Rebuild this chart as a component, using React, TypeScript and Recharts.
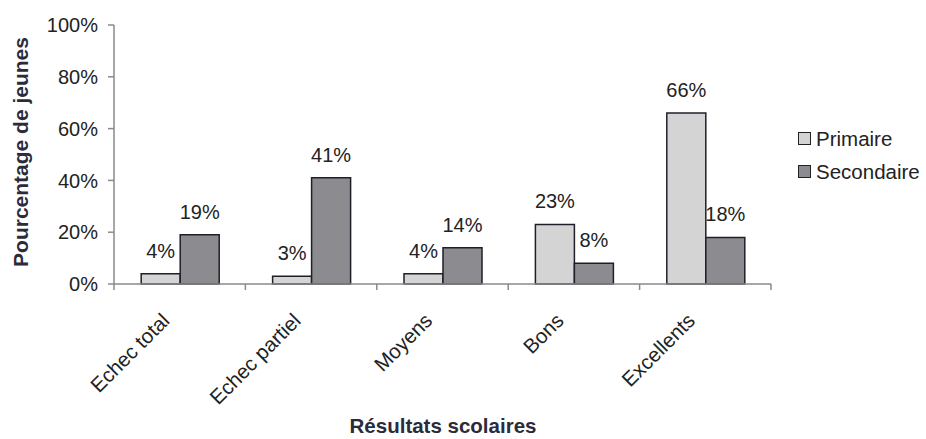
import { Bar, BarChart, LabelList, XAxis, YAxis } from "recharts";

const categories = ["Echec total", "Echec partiel", "Moyens", "Bons", "Excellents"];
const primaire = [4, 3, 4, 23, 66];
const secondaire = [19, 41, 14, 8, 18];
const yTicks = [0, 20, 40, 60, 80, 100];

const data = categories.map((name, i) => ({
  name,
  primaire: primaire[i],
  secondaire: secondaire[i],
}));

const W = 926;
const H = 439;
const MARGIN = { top: 25, right: 155, bottom: 0, left: 0 };
const Y_AXIS_W = 114;
const BAND = (W - MARGIN.right - MARGIN.left - Y_AXIS_W) / categories.length;
const FONT = "'Liberation Sans', Arial, sans-serif";
const AXIS_COLOR = "#8a8a8a";
const TEXT = "#222";
const TITLE = "#2b2b3a";

const LIGHT = "#d4d4d4";
const DARK = "#8c8c90";

function XTick(props: any) {
  const { x, y, payload, index } = props;
  const left = x - BAND / 2;
  const right = x + BAND / 2;
  const ax = x - 9;
  const ay = y + 38;
  return (
    <g>
      <line x1={left} y1={y} x2={left} y2={y + 6} stroke={AXIS_COLOR} strokeWidth={1.5} />
      {index === categories.length - 1 && (
        <line x1={right} y1={y} x2={right} y2={y + 6} stroke={AXIS_COLOR} strokeWidth={1.5} />
      )}
      <text
        x={ax}
        y={ay}
        transform={`rotate(-45 ${ax} ${ay})`}
        textAnchor="end"
        fontSize={20.5}
        fontFamily={FONT}
        fill={TEXT}
      >
        {payload.value}
      </text>
    </g>
  );
}

function YTitle() {
  return (
    <text
      x={28}
      y={152}
      transform="rotate(-90 28 152)"
      textAnchor="middle"
      fontFamily={FONT}
      fontSize={21}
      fontWeight={700}
      fill={TITLE}
    >
      Pourcentage de jeunes
    </text>
  );
}

function XTitle() {
  return (
    <text
      x={443}
      y={433}
      textAnchor="middle"
      fontFamily={FONT}
      fontSize={20.5}
      fontWeight={700}
      fill={TITLE}
    >
      Résultats scolaires
    </text>
  );
}

function LegendBox() {
  const items = [
    { label: "Primaire", color: LIGHT },
    { label: "Secondaire", color: DARK },
  ];
  return (
    <div
      style={{
        position: "absolute",
        left: 798,
        top: 122,
        fontFamily: FONT,
        fontSize: 20.5,
        color: TEXT,
      }}
    >
      {items.map((it) => (
        <div key={it.label} style={{ display: "flex", alignItems: "center", height: 33 }}>
          <span
            style={{
              display: "inline-block",
              width: 11,
              height: 11,
              background: it.color,
              border: "1.5px solid #222",
              marginRight: 5,
            }}
          />
          <span>{it.label}</span>
        </div>
      ))}
    </div>
  );
}

export default function App() {
  return (
    <div style={{ position: "absolute", left: 0, top: 0, width: W, height: H, background: "#fff" }}>
      <BarChart
        width={W}
        height={H}
        data={data}
        margin={MARGIN}
        barCategoryGap="20.7%"
        barGap={0}
      >
        <XAxis
          dataKey="name"
          height={H - 284 - MARGIN.bottom}
          interval={0}
          stroke={AXIS_COLOR}
          strokeWidth={1.5}
          tickLine={false}
          tickSize={0}
          tickMargin={0}
          tick={<XTick />}
          label={{ content: <XTitle /> }}
        />
        <YAxis
          width={Y_AXIS_W}
          domain={[0, 100]}
          ticks={yTicks}
          interval={0}
          tickFormatter={(v) => `${v}%`}
          stroke={AXIS_COLOR}
          strokeWidth={1.5}
          tickSize={6}
          tickMargin={10}
          tick={{ fontSize: 20, fontFamily: FONT, fill: TEXT }}
          label={{ content: <YTitle /> }}
        />
        <Bar dataKey="primaire" fill={LIGHT} stroke="#1f1f2a" strokeWidth={1.5} isAnimationActive={false}>
          <LabelList
            dataKey="primaire"
            position="top"
            offset={16}
            formatter={(v: any) => `${v}%`}
            style={{ fontSize: 20, fontFamily: FONT, fill: TEXT }}
          />
        </Bar>
        <Bar dataKey="secondaire" fill={DARK} stroke="#1f1f2a" strokeWidth={1.5} isAnimationActive={false}>
          <LabelList
            dataKey="secondaire"
            position="top"
            offset={16}
            formatter={(v: any) => `${v}%`}
            style={{ fontSize: 20, fontFamily: FONT, fill: TEXT }}
          />
        </Bar>
      </BarChart>
      <LegendBox />
    </div>
  );
}
